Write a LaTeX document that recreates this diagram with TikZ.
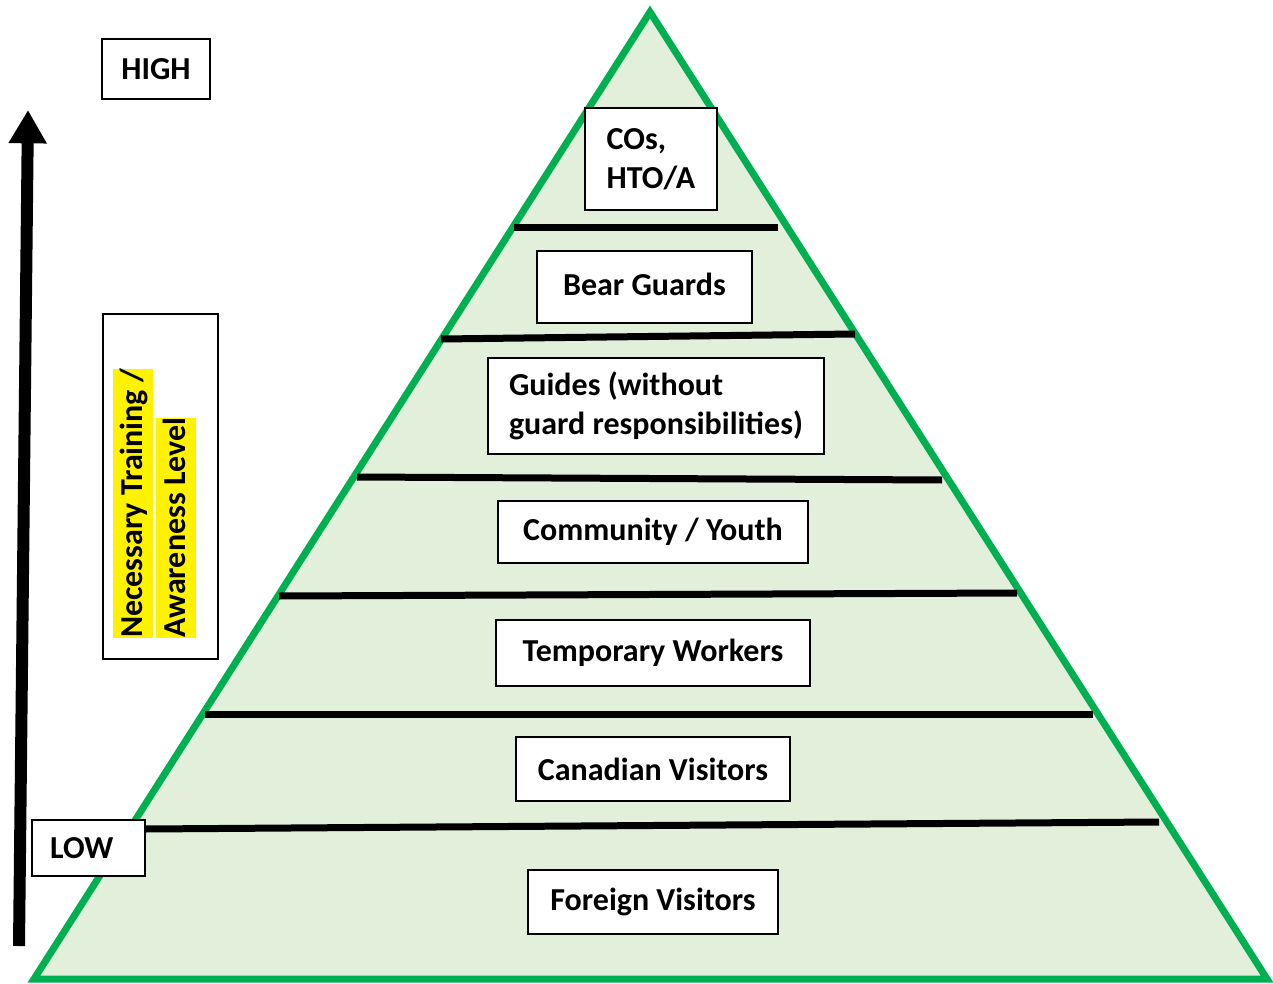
\documentclass[tikz,border=0pt]{standalone}
\usepackage{fontspec}
\setmainfont{Carlito}
\usetikzlibrary{arrows.meta}

\definecolor{pyrgreen}{RGB}{0,176,80}
\definecolor{pyrfill}{RGB}{226,239,218}

\newcommand{\hilite}[1]{{\setlength{\fboxsep}{0pt}\colorbox{yellow}{\vrule height 22pt depth 8pt width 0pt #1}}}

\tikzset{
  tier/.style={draw, line width=1.5pt, fill=white, inner sep=0pt,
    font=\fontsize{24}{29}\selectfont\bfseries, align=left},
  divider/.style={line width=5.25pt, black},
}

\begin{document}
\begin{tikzpicture}[x=0.75pt,y=0.75pt,yscale=-1,xscale=1]
    \useasboundingbox (0,0) rectangle (1273,984);

    %Shape: Triangle
    \draw [pyrgreen, fill=pyrfill, line width=5.25pt] (650,12) -- (1267,979) -- (34,979) -- cycle ;

    %Shape: Arrow
    \draw [line width=9pt, -{Triangle[width=27pt,length=25pt]}] (19,946) -- (28,110) ;

    %Straight Lines
    \draw [divider] (514,228) -- (778,228) ;
    \draw [divider] (441,339) -- (855,334) ;
    \draw [divider] (357,477) -- (942,480) ;
    \draw [divider] (279,596) -- (1017,593) ;
    \draw [divider] (205,714) -- (1093,714) ;
    \draw [divider] (145,829) -- (1159,822) ;

    % Text Node
    \node [tier, minimum width=99pt, minimum height=76.5pt] (cos) at (651,159) {COs,\\HTO/A};
    % Text Node
    \node [tier, minimum width=161.25pt, minimum height=54pt] (bear) at (644.5,287) {\raisebox{4.5pt}{Bear Guards}};
    % Text Node
    \node [tier, minimum width=252pt, minimum height=72pt] (guides) at (656,406) {Guides (without\\guard responsibilities)};
    % Text Node
    \node [tier, minimum width=232.5pt, minimum height=46.5pt] (youth) at (653,532) {Community / Youth};
    % Text Node
    \node [tier, minimum width=235.5pt, minimum height=49.5pt] (temp) at (653,653) {Temporary Workers};
    % Text Node
    \node [tier, minimum width=205.5pt, minimum height=48pt] (canada) at (653,769) {Canadian Visitors};
    % Text Node
    \node [tier, minimum width=187.5pt, minimum height=48pt] (foreign) at (653,902) {Foreign Visitors};

    % Text Node
    \node [tier, minimum width=81pt, minimum height=45pt] (high) at (156,69) {HIGH};
    % Text Node
    \node [tier, minimum width=84.75pt, minimum height=42pt] (low) at (88.5,848) {LOW\hspace*{10pt}};

    %Shape: Rectangle
    \node [tier, minimum width=86.25pt, minimum height=258.75pt] (levelbox) at (160.5,486.5) {};
    % Text Node
    \node [rotate=90, anchor=west, inner sep=0pt, font=\fontsize{24}{32.5}\selectfont\bfseries, align=left] (level) at (154.5,638)
      {\hilite{Necessary Training /}\\\hilite{Awareness Level}};
\end{tikzpicture}
\end{document}
